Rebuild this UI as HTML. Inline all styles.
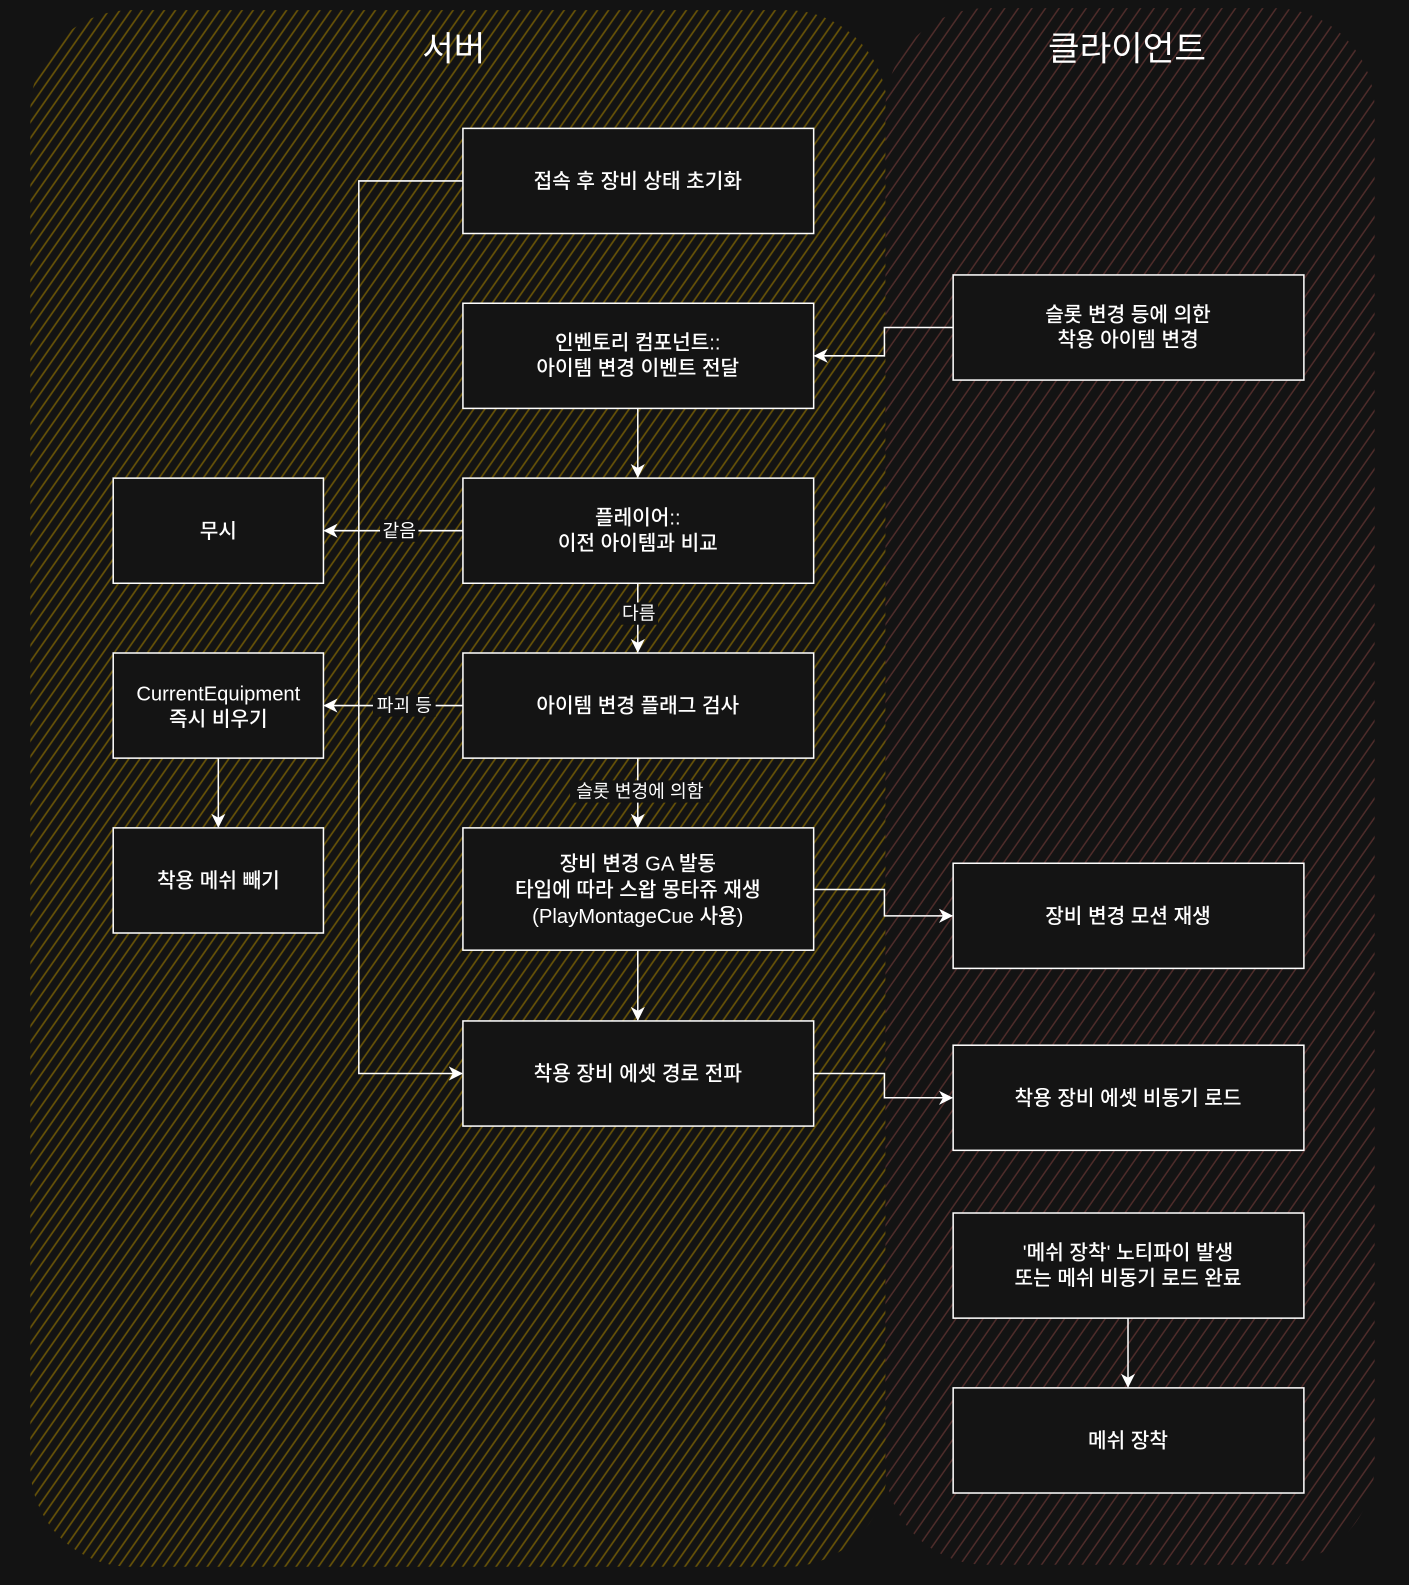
<!DOCTYPE html>
<html><head><meta charset="utf-8"><style>
html,body{margin:0;padding:0;background:#131313;}
svg{display:block;}
text{font-family:"Liberation Sans","Noto Sans CJK KR",sans-serif;fill:#fff;}
</style></head><body>
<svg width="1409" height="1585" viewBox="0 0 1394 1568" preserveAspectRatio="none" xmlns="http://www.w3.org/2000/svg">
<defs>
<pattern id="hs" width="9" height="9" patternUnits="userSpaceOnUse" patternTransform="rotate(-55)">
<rect width="9" height="9" fill="#131313"/><line x1="0" y1="4" x2="9" y2="4" stroke="#665208" stroke-width="1.7"/>
</pattern>
<pattern id="hc" width="11" height="11" patternUnits="userSpaceOnUse" patternTransform="rotate(-55)">
<rect width="11" height="11" fill="#131313"/><line x1="0" y1="5" x2="11" y2="5" stroke="#4e2c2a" stroke-width="1.5"/>
</pattern>
<marker id="a" markerWidth="14" markerHeight="14" refX="13" refY="7" orient="auto" markerUnits="userSpaceOnUse">
<path d="M0,0 L14,7 L0,14 L4,7 Z" fill="#fff"/></marker>
</defs>
<rect width="1394" height="1568" fill="#131313"/>
<rect x="30" y="10" width="848" height="1540" rx="100" fill="url(#hs)"/>
<rect x="876" y="8" width="484" height="1540" rx="100" fill="url(#hc)"/>
<text x="449" y="60" font-size="34" text-anchor="middle">서버</text>
<text x="1115" y="60" font-size="34" text-anchor="middle">클라이언트</text>
<g fill="none" stroke="#fff" stroke-width="1.5">
<path d="M458,179 H355 V1062 H457" marker-end="url(#a)"/>
<path d="M943,324 H875 V352 H806" marker-end="url(#a)"/>
<path d="M631,404 V472" marker-end="url(#a)"/>
<path d="M458,525 H321" marker-end="url(#a)"/>
<path d="M631,577 V645" marker-end="url(#a)"/>
<path d="M458,698 H321" marker-end="url(#a)"/>
<path d="M216,750 V818" marker-end="url(#a)"/>
<path d="M631,750 V818" marker-end="url(#a)"/>
<path d="M805,880 H875 V906 H942" marker-end="url(#a)"/>
<path d="M631,940 V1009" marker-end="url(#a)"/>
<path d="M805,1062 H875 V1086 H942" marker-end="url(#a)"/>
<path d="M1116,1304 V1372" marker-end="url(#a)"/>
</g>
<g font-size="18" text-anchor="middle">
<rect x="376" y="514" width="38" height="22" fill="#131313"/><text x="395" y="531">같음</text>
<rect x="613" y="596" width="38" height="22" fill="#131313"/><text x="632" y="613">다름</text>
<rect x="369" y="687" width="62" height="22" fill="#131313"/><text x="400" y="704">파괴 등</text>
<rect x="564" y="772" width="138" height="22" fill="#131313"/><text x="633" y="789">슬롯 변경에 의함</text>
</g>
<g fill="#141414" stroke="#fff" stroke-width="1.5">
<rect x="458" y="127" width="347" height="104"/>
<rect x="458" y="300" width="347" height="104"/>
<rect x="458" y="473" width="347" height="104"/>
<rect x="458" y="646" width="347" height="104"/>
<rect x="458" y="819" width="347" height="121"/>
<rect x="458" y="1010" width="347" height="104"/>
<rect x="112" y="473" width="208" height="104"/>
<rect x="112" y="646" width="208" height="104"/>
<rect x="112" y="819" width="208" height="104"/>
<rect x="943" y="272" width="347" height="104"/>
<rect x="943" y="854" width="347" height="104"/>
<rect x="943" y="1034" width="347" height="104"/>
<rect x="943" y="1200" width="347" height="104"/>
<rect x="943" y="1373" width="347" height="104"/>
</g>
<g font-size="20" text-anchor="middle" font-weight="500">
<text x="631" y="186">접속 후 장비 상태 초기화</text>
<text x="631" y="346">인벤토리 컴포넌트::</text><text x="631" y="371">아이템 변경 이벤트 전달</text>
<text x="631" y="519">플레이어::</text><text x="631" y="544">이전 아이템과 비교</text>
<text x="631" y="705">아이템 변경 플래그 검사</text>
<text x="631" y="861">장비 변경 GA 발동</text><text x="631" y="887">타입에 따라 스왑 몽타쥬 재생</text><text x="631" y="913">(PlayMontageCue 사용)</text>
<text x="631" y="1069">착용 장비 에셋 경로 전파</text>
<text x="216" y="532">무시</text>
<text x="216" y="693">CurrentEquipment</text><text x="216" y="718">즉시 비우기</text>
<text x="216" y="878">착용 메쉬 빼기</text>
<text x="1116" y="318">슬롯 변경 등에 의한</text><text x="1116" y="343">착용 아이템 변경</text>
<text x="1116" y="913">장비 변경 모션 재생</text>
<text x="1116" y="1093">착용 장비 에셋 비동기 로드</text>
<text x="1116" y="1246">'메쉬 장착' 노티파이 발생</text><text x="1116" y="1271">또는 메쉬 비동기 로드 완료</text>
<text x="1116" y="1432">메쉬 장착</text>
</g>
</svg>
</body></html>
